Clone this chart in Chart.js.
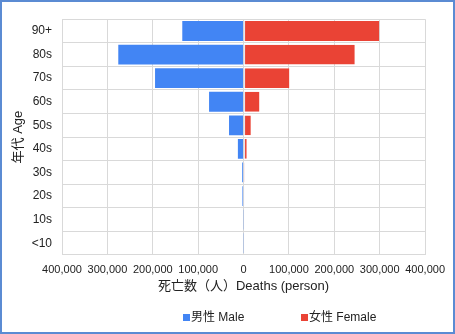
<!DOCTYPE html>
<html>
<head>
<meta charset="utf-8">
<script src="https://cdn.jsdelivr.net/npm/chart.js@4"></script>
<style>
  html, body { margin: 0; padding: 0; background: #fff; }
  #frame {
    position: relative;
    width: 455px;
    height: 334px;
    box-sizing: border-box;
    border: 2px solid #5b8bd3;
  }
  #legend {
    position: absolute;
    top: 308px;
    left: 0;
    height: 14px;
    font: 12px "Liberation Sans", Arial, "Noto Sans CJK JP", sans-serif;
    color: #222;
    white-space: nowrap;
  }
  #legend .item {
    position: absolute;
    top: 0;
    line-height: 14px;
  }
  #legend .swatch {
    display: inline-block;
    width: 7px;
    height: 7px;
    margin-right: 1px;
    vertical-align: 0px;
  }
</style>
</head>
<body>
<div id="frame">
  <canvas id="chart"></canvas>
  <div id="legend"></div>
</div>
<script>
// Age groups, top row first
const ageGroups = ['90+', '80s', '70s', '60s', '50s', '40s', '30s', '20s', '10s', '<10'];

// Deaths per age group (persons); male drawn to the left as negatives
const maleDeaths   = [135000, 276000, 195000, 76000, 32000, 12500, 3000, 2500, 600, 600];
const femaleDeaths = [299000, 245000, 101000, 35000, 16000, 7000, 2000, 1500, 800, 800];

const seriesNames  = ['男性 Male', '女性 Female'];
const seriesColors = ['#4285f4', '#ea4335'];

const xTickValues = [-400000, -300000, -200000, -100000, 0, 100000, 200000, 300000, 400000];

const FONT = '"Liberation Sans", Arial, "Noto Sans CJK JP", sans-serif';
const GRID = '#d9d9d9';

new Chart(document.getElementById('chart'), {
    type: 'bar',
    data: {
        labels: ageGroups,
        datasets: [
            {
                label: seriesNames[0],
                data: maleDeaths.map(v => -v),
                backgroundColor: seriesColors[0],
                barPercentage: 0.84,
                categoryPercentage: 1,
            },
            {
                label: seriesNames[1],
                data: femaleDeaths,
                backgroundColor: seriesColors[1],
                borderColor: '#e4e4ec',
                borderWidth: { left: 1, right: 0, top: 0, bottom: 0 },
                borderSkipped: false,
                barPercentage: 0.84,
                categoryPercentage: 1,
            }
        ]
    },
    options: {
        indexAxis: 'y',
        responsive: true,
        maintainAspectRatio: false,
        animation: false,
        layout: { padding: { top: 15, right: 27, left: 0, bottom: 36 } },
        plugins: {
            tooltip: { enabled: false },
            legend: { display: false }
        },
        scales: {
            x: {
                stacked: true,
                min: -400000,
                max: 400000,
                afterBuildTicks: axis => { axis.ticks = xTickValues.map(v => ({ value: v })); },
                afterFit: axis => { axis.height = 41; },
                grid: { color: GRID, drawTicks: false },
                border: { display: false },
                ticks: {
                    color: '#222',
                    padding: 8,
                    maxRotation: 0,
                    font: { family: FONT, size: 11 },
                    callback: v => Math.abs(v).toLocaleString('en-US'),
                },
                title: {
                    display: true,
                    text: '死亡数（人）Deaths (person)',
                    color: '#222',
                    font: { family: FONT, size: 13 },
                    padding: { top: 0, bottom: 2 },
                }
            },
            y: {
                stacked: true,
                afterFit: axis => { axis.width = 60; },
                grid: { color: GRID, drawTicks: false },
                border: { display: false },
                ticks: {
                    color: '#222',
                    padding: 10,
                    font: { family: FONT, size: 12 },
                },
                title: {
                    display: true,
                    text: '年代 Age',
                    color: '#222',
                    font: { family: FONT, size: 13 },
                    padding: { top: 9, bottom: 0 },
                }
            }
        }
    }
});

// Legend as plain HTML so the wide gap between the two entries can be set
const legendX = [181, 299];
const legendEl = document.getElementById('legend');
seriesNames.forEach((name, i) => {
    const item = document.createElement('span');
    item.className = 'item';
    item.style.left = legendX[i] + 'px';
    const sw = document.createElement('span');
    sw.className = 'swatch';
    sw.style.background = seriesColors[i];
    item.appendChild(sw);
    item.appendChild(document.createTextNode(name));
    legendEl.appendChild(item);
});
</script>
</body>
</html>
